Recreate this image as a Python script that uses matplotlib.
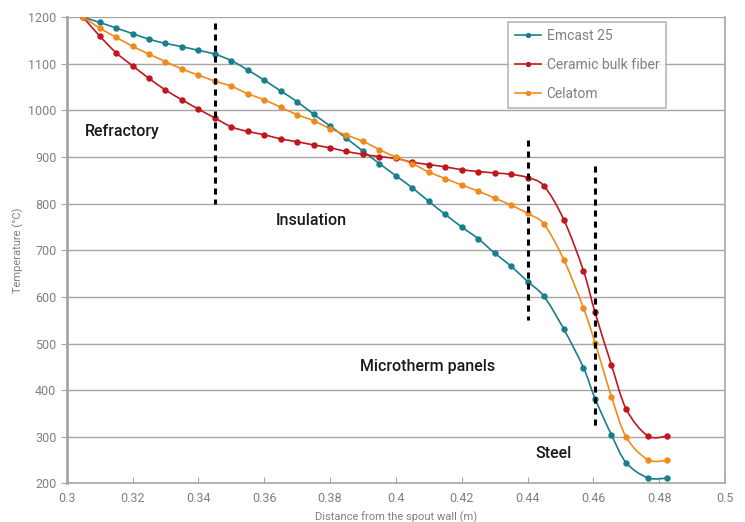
import numpy as np
import matplotlib
matplotlib.use("Agg")
import matplotlib.pyplot as plt
from matplotlib.path import Path
from matplotlib.patches import PathPatch

plt.rcParams['font.family'] = ['Roboto', 'DejaVu Sans']

distance = [0.305, 0.31, 0.315, 0.32, 0.325, 0.33, 0.335, 0.34, 0.345, 0.35,
            0.355, 0.36, 0.365, 0.37, 0.375, 0.38, 0.385, 0.39, 0.395, 0.4,
            0.405, 0.41, 0.415, 0.42, 0.425, 0.43, 0.435, 0.44, 0.445, 0.451,
            0.457, 0.4605, 0.4655, 0.47, 0.4765, 0.4825]

emcast = [1200, 1189, 1177, 1165, 1153, 1144, 1137, 1129, 1121, 1107,
          1087, 1065, 1042, 1019, 992, 967, 940, 913, 886, 860,
          834, 805, 777, 750, 725, 694, 666, 633, 601, 531,
          448, 382, 304, 244, 212, 211]

ceramic = [1200, 1160, 1124, 1096, 1069, 1044, 1023, 1003, 984, 965,
           955, 948, 939, 933, 926, 920, 912, 906, 901, 897,
           889, 884, 879, 873, 869, 866, 863, 856, 838, 766,
           656, 567, 454, 359, 302, 301]

celatom = [1200, 1177, 1157, 1138, 1121, 1105, 1089, 1076, 1063, 1052,
           1036, 1023, 1007, 991, 978, 961, 947, 934, 916, 900,
           886, 868, 854, 840, 827, 812, 797, 779, 756, 680,
           576, 502, 386, 299, 251, 249]

series = [("Emcast 25", emcast, "#187f8c"),
          ("Ceramic bulk fiber", ceramic, "#c1161d"),
          ("Celatom", celatom, "#f18a1c")]

# zone boundaries: x, y start, y end
boundaries = [(0.345, 1188, 800), (0.44, 937, 551), (0.4605, 880, 318)]

zones = [("Refractory", 0.3055, 954), ("Insulation", 0.3635, 764),
         ("Microtherm panels", 0.389, 450), ("Steel", 0.4425, 263)]


def smooth_path(ax, xs, ys, color):
    # Excel-like smoothed line (cardinal spline drawn as bezier segments)
    pts = ax.transData.transform(np.column_stack([xs, ys]))
    n = len(pts)
    verts = [pts[0]]
    codes = [Path.MOVETO]
    t = 1 / 6
    for i in range(n - 1):
        p0 = pts[max(i - 1, 0)]
        p1 = pts[i]
        p2 = pts[i + 1]
        p3 = pts[min(i + 2, n - 1)]
        c1 = p1 + (p2 - p0) * t
        c2 = p2 - (p3 - p1) * t
        verts += [c1, c2, p2]
        codes += [Path.CURVE4] * 3
    path = Path(verts, codes)
    patch = PathPatch(path, transform=None, facecolor='none',
                      edgecolor=color, lw=1.2, zorder=3)
    ax.add_artist(patch)


fig = plt.figure(figsize=(7.45, 5.22), dpi=100)
ax = fig.add_axes([0.0895, 0.0741, 0.8837, 0.8928])
ax.set_xlim(0.3, 0.5)
ax.set_ylim(200, 1200)

grey = '#808080'
for label, vals, col in series:
    ax.plot(distance, vals, linestyle='none', marker='o', markersize=3.6,
            color=col, label=label, zorder=4)

for bx, y0, y1 in boundaries:
    ax.plot([bx, bx], [y0, y1], color='black', lw=2.2,
            linestyle=(0, (2, 1.6)), zorder=5)

for txt, tx, ty in zones:
    ax.text(tx, ty, txt, fontsize=11.5, color='#1a1a1a', va='center',
            ha='left', fontweight='medium')

ax.set_xticks(np.arange(0.3, 0.501, 0.02))
ax.set_xticklabels(['0.3', '0.32', '0.34', '0.36', '0.38', '0.4', '0.42',
                    '0.44', '0.46', '0.48', '0.5'])
ax.set_yticks(np.arange(200, 1201, 100))
ax.yaxis.grid(True, color='#a6a6a6', lw=1)
ax.set_axisbelow(True)
ax.tick_params(axis='x', direction='in', length=4, color='#a6a6a6',
               labelcolor=grey, labelsize=9, pad=6)
ax.tick_params(axis='y', direction='out', length=4, color='#a6a6a6',
               labelcolor=grey, labelsize=9)
for s in ['left', 'bottom', 'right']:
    ax.spines[s].set_color('#a6a6a6')
ax.spines['left'].set_linewidth(2)
ax.spines['bottom'].set_linewidth(1.2)
ax.spines['right'].set_linewidth(1.2)
ax.spines['top'].set_visible(False)

ax.set_xlabel('Distance from the spout wall (m)', fontsize=8, color=grey,
              labelpad=5)
ax.set_ylabel('Temperature (\u00b0C)', fontsize=8, color=grey, labelpad=3)

fig.canvas.draw()
handles = []
for label, vals, col in series:
    smooth_path(ax, distance, vals, col)
    h, = ax.plot([], [], color=col, lw=1.2, marker='o', markersize=2.8,
                 label=label)
    handles.append(h)

leg = ax.legend(handles=handles, loc='upper left',
                bbox_to_anchor=(0.670, 0.9906), borderaxespad=0,
                frameon=True, fancybox=False,
                edgecolor='#a6a6a6', fontsize=10, labelcolor=grey,
                handlelength=1.9, handletextpad=0.4, labelspacing=1.1,
                borderpad=0.5)
leg.get_frame().set_linewidth(1.2)

fig.savefig('out.png', dpi=100)
